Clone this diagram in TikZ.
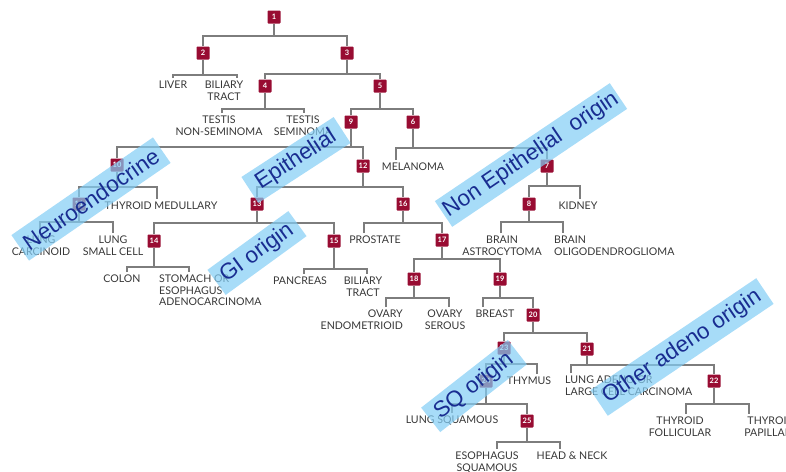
\documentclass[tikz,border=0pt]{standalone}
\usepackage{fontspec}
\setmainfont{Lato}
\newfontfamily\ovfont{Liberation Sans}
\definecolor{boxred}{RGB}{152,12,50}
\definecolor{linegray}{RGB}{125,125,125}
\definecolor{txtgray}{RGB}{55,55,55}
\definecolor{bandblue}{RGB}{130,205,245}
\definecolor{bandtext}{RGB}{25,45,145}
\begin{document}
\begin{tikzpicture}[x=1pt,y=-1pt,
  nbox/.style={fill=boxred, text=white, minimum size=13pt, inner sep=0pt, rounded corners=0.8pt, font=\bfseries\fontsize{7.5}{8}\selectfont},
  lab/.style={text=txtgray, inner sep=0pt, font=\fontsize{10.6}{11.5}\selectfont, align=center, anchor=north},
  labl/.style={lab, align=left, anchor=north west},
  labr/.style={lab, align=right, anchor=north east},
  conn/.style={draw=linegray, line width=1.1pt},
  band/.style={fill=bandblue, fill opacity=0.7, text opacity=1, text=bandtext, minimum width=#1, minimum height=31pt, inner sep=0pt, font=\ovfont\fontsize{22.5}{24}\selectfont},
]
\useasboundingbox (0,0) rectangle (786,471);
% boxes
\node[nbox] (b1) at (274,17) {1};
\node[nbox] (b2) at (203,53) {2};
\node[nbox] (b3) at (347,53) {3};
\node[nbox] (b4) at (265,86) {4};
\node[nbox] (b5) at (380,86) {5};
\node[nbox] (b9) at (351,122) {9};
\node[nbox] (b6) at (413,122) {6};
\node[nbox] (b7) at (547,166) {7};
\node[nbox] (b8) at (529,204) {8};
\node[nbox] (b10) at (117,165) {10};
\node[nbox] (b11) at (79,204) {11};
\node[nbox] (b12) at (363,166) {12};
\node[nbox] (b13) at (257,204) {13};
\node[nbox] (b16) at (403,204) {16};
\node[nbox] (b14) at (154,241) {14};
\node[nbox] (b15) at (334,241) {15};
\node[nbox] (b17) at (442,240) {17};
\node[nbox] (b18) at (414,279) {18};
\node[nbox] (b19) at (500,279) {19};
\node[nbox] (b20) at (533,315) {20};
\node[nbox] (b23) at (504,348) {23};
\node[nbox] (b21) at (587,349) {21};
\node[nbox] (b24) at (486,381) {24};
\node[nbox] (b25) at (527,421) {25};
\node[nbox] (b22) at (714,381) {22};
% labels
\node[lab] (liver) at (173,81) {LIVER};
\node[lab] (bil1) at (224,81) {BILIARY\\TRACT};
\node[lab] (nonsem) at (219,116) {TESTIS\\NON-SEMINOMA};
\node[lab] (sem) at (303,116) {TESTIS\\SEMINOMA};
\node[lab] (mel) at (413,163) {MELANOMA};
\node[lab] (thymed) at (161,202) {THYROID MEDULLARY};
\node[lab] (lcarc) at (41,236) {LUNG\\CARCINOID};
\node[lab] (lsmall) at (113,236) {LUNG\\SMALL CELL};
\node[lab] (colon) at (122,275) {COLON};
\node[labl] (stom) at (159,275) {STOMACH OR\\ESOPHAGUS\\ADENOCARCINOMA};
\node[lab] (panc) at (300,277) {PANCREAS};
\node[lab] (bil2) at (363,277) {BILIARY\\TRACT};
\node[lab] (prost) at (375,236) {PROSTATE};
\node[labr] (ovendo) at (403,310) {OVARY\\ENDOMETRIOID};
\node[lab] (ovser) at (445,310) {OVARY\\SEROUS};
\node[lab] (breast) at (495,310) {BREAST};
\node[lab] (thymus) at (529,377) {THYMUS};
\node[lab] (lsq) at (452,416) {LUNG SQUAMOUS};
\node[lab] (esosq) at (487,452) {ESOPHAGUS\\SQUAMOUS};
\node[lab] (hn) at (572,452) {HEAD \& NECK};
\node[labl] (ladeno) at (565,376) {LUNG ADENO OR\\LARGE CELL CARCINOMA};
\node[lab] (thyfol) at (680,417) {THYROID\\FOLLICULAR};
\node[lab] (thypap) at (771,417) {THYROID\\PAPILLARY};
\node[lab] (kidney) at (578,202) {KIDNEY};
\node[lab] (bast) at (502,236) {BRAIN\\ASTROCYTOMA};
\node[labl] (boligo) at (554,236) {BRAIN\\OLIGODENDROGLIOMA};
% junction coordinates
\coordinate (j1) at (274,36);
\coordinate (j2) at (203,75);
\coordinate (j3) at (347,74);
\coordinate (j4) at (265,109);
\coordinate (j5) at (380,109);
\coordinate (j6) at (413,148);
\coordinate (j9) at (351,147);
\coordinate (j10) at (117,187);
\coordinate (j11) at (79,222);
\coordinate (j12) at (363,187);
\coordinate (j13) at (257,223);
\coordinate (j14) at (154,267);
\coordinate (j15) at (334,269);
\coordinate (j16) at (403,223);
\coordinate (j17) at (442,259);
\coordinate (j18) at (414,298);
\coordinate (j19) at (500,298);
\coordinate (j20) at (533,333);
\coordinate (j23) at (504,364);
\coordinate (j24) at (486,404);
\coordinate (j25) at (527,442);
\coordinate (j21) at (587,365);
\coordinate (j22) at (714,404);
\coordinate (j7) at (547,186);
\coordinate (j8) at (529,222);
% tick ends
\coordinate (tliver) at (173,78);
\coordinate (tbil1) at (237,78);
\coordinate (tnonsem) at (222,113);
\coordinate (tsem) at (304,113);
\coordinate (tmel) at (396,160);
\coordinate (tthymed) at (157,199);
\coordinate (tlcarc) at (40,233);
\coordinate (tlsmall) at (113,233);
\coordinate (tcolon) at (127,272);
\coordinate (tstom) at (189,272);
\coordinate (tpanc) at (304,274);
\coordinate (tbil2) at (367,274);
\coordinate (tprost) at (364,233);
\coordinate (tovendo) at (386,307);
\coordinate (tovser) at (449,307);
\coordinate (tbreast) at (483,307);
\coordinate (tthymus) at (537,374);
\coordinate (tlsq) at (452,413);
\coordinate (tesosq) at (497,449);
\coordinate (thn) at (560,449);
\coordinate (tladeno) at (571,373);
\coordinate (tthyfol) at (686,414);
\coordinate (tthypap) at (749,414);
\coordinate (tkidney) at (580,199);
\coordinate (tbast) at (501,233);
\coordinate (tboligo) at (563,233);
% connectors
\draw[conn] (b1.south) -- (j1); \draw[conn] (b2.north) |- (j1) -| (b3.north);
\draw[conn] (b2.south) -- (j2); \draw[conn] (tliver) |- (j2) -| (tbil1);
\draw[conn] (b3.south) -- (j3); \draw[conn] (b4.north) |- (j3) -| (b5.north);
\draw[conn] (b4.south) -- (j4); \draw[conn] (tnonsem) |- (j4) -| (tsem);
\draw[conn] (b5.south) -- (j5); \draw[conn] (b9.north) |- (j5) -| (b6.north);
\draw[conn] (b6.south) -- (j6); \draw[conn] (tmel) |- (j6) -| (b7.north);
\draw[conn] (b9.south) -- (j9); \draw[conn] (b10.north) |- (j9) -| (b12.north);
\draw[conn] (b10.south) -- (j10); \draw[conn] (b11.north) |- (j10) -| (tthymed);
\draw[conn] (b11.south) -- (j11); \draw[conn] (tlcarc) |- (j11) -| (tlsmall);
\draw[conn] (b12.south) -- (j12); \draw[conn] (b13.north) |- (j12) -| (b16.north);
\draw[conn] (b13.south) -- (j13); \draw[conn] (b14.north) |- (j13) -| (b15.north);
\draw[conn] (b14.south) -- (j14); \draw[conn] (tcolon) |- (j14) -| (tstom);
\draw[conn] (b15.south) -- (j15); \draw[conn] (tpanc) |- (j15) -| (tbil2);
\draw[conn] (b16.south) -- (j16); \draw[conn] (tprost) |- (j16) -| (b17.north);
\draw[conn] (b17.south) -- (j17); \draw[conn] (b18.north) |- (j17) -| (b19.north);
\draw[conn] (b18.south) -- (j18); \draw[conn] (tovendo) |- (j18) -| (tovser);
\draw[conn] (b19.south) -- (j19); \draw[conn] (tbreast) |- (j19) -| (b20.north);
\draw[conn] (b20.south) -- (j20); \draw[conn] (b23.north) |- (j20) -| (b21.north);
\draw[conn] (b23.south) -- (j23); \draw[conn] (b24.north) |- (j23) -| (tthymus);
\draw[conn] (b24.south) -- (j24); \draw[conn] (tlsq) |- (j24) -| (b25.north);
\draw[conn] (b25.south) -- (j25); \draw[conn] (tesosq) |- (j25) -| (thn);
\draw[conn] (b21.south) -- (j21); \draw[conn] (tladeno) |- (j21) -| (b22.north);
\draw[conn] (b22.south) -- (j22); \draw[conn] (tthyfol) |- (j22) -| (tthypap);
\draw[conn] (b7.south) -- (j7); \draw[conn] (b8.north) |- (j7) -| (tkidney);
\draw[conn] (b8.south) -- (j8); \draw[conn] (tbast) |- (j8) -| (tboligo);
% overlays
\node[band=172pt, rotate=34.6] (ov1) at (91,199) {Neuroendocrine};
\node[band=110pt, rotate=33] (ov2) at (296,160) {Epithelial};
\node[band=211pt, rotate=34] (ov3) at (531,155) {Non Epithelial\ \ origin};
\node[band=100pt, rotate=36] (ov4) at (257,253) {GI origin};
\node[band=110pt, rotate=38] (ov5) at (474,386) {SQ origin};
\node[band=200pt, rotate=34] (ov6) at (682,347) {Other adeno origin};
\end{tikzpicture}
\end{document}
